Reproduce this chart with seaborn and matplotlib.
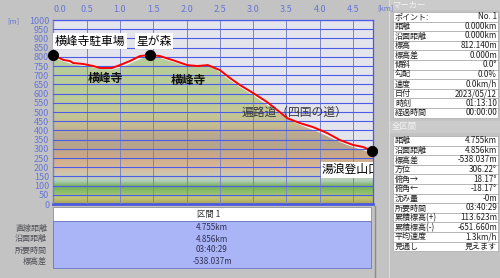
import numpy as np
import matplotlib
matplotlib.use("Agg")
import matplotlib.pyplot as plt
import seaborn as sns
from matplotlib.colors import LinearSegmentedColormap
from matplotlib.patches import Rectangle

# ---------------- data ----------------
route_km = [0.00, 0.15, 0.25, 0.30, 0.45, 0.60, 0.70, 0.88, 1.00, 1.15, 1.30, 1.45,
            1.60, 1.80, 2.01, 2.16, 2.32, 2.50, 2.65, 2.80, 3.00, 3.21, 3.36, 3.51,
            3.70, 3.90, 4.11, 4.30, 4.50, 4.65, 4.79]
route_elev = [810, 783, 777, 766, 761, 750, 739, 739, 755, 777, 804, 810,
              804, 781, 755, 750, 755, 728, 685, 647, 603, 554, 511, 467,
              440, 418, 386, 348, 321, 310, 288]

terrain_km = [0.0, 0.15, 0.3, 0.5, 0.7, 0.9, 1.05, 1.2, 1.35, 1.45, 1.6, 1.8, 2.0,
              2.15, 2.3, 2.45, 2.6, 2.8, 3.0, 3.2, 3.4, 3.6, 3.8, 4.0, 4.2, 4.4,
              4.6, 4.8]
terrain_elev = [800, 778, 762, 752, 738, 735, 750, 775, 798, 803, 797, 775, 752,
                752, 758, 735, 690, 640, 595, 545, 495, 450, 420, 392, 358, 326,
                302, 280]

point_km = [0.00, 1.45, 4.79]
point_elev = [812, 810, 288]

label_names = ["横峰寺駐車場", "星が森", "湯浪登山口"]
label_km = [0.02, 1.51, 4.035]
label_elev = [884, 884, 185]

area_names = ["横峰寺", "横峰寺"]
area_km = [0.78, 2.03]
area_elev = [680, 670]

trail_name = "遍路道（四国の道）"
trail_km = 3.615
trail_elev = 497

x_ticks = [0.0, 0.5, 1.0, 1.5, 2.0, 2.5, 3.0, 3.5, 4.0, 4.5]
y_ticks = list(range(0, 1001, 50))

marker_labels = ["ポイント:", "距離", "沿面距離", "標高", "標高差", "傾斜", "勾配",
                 "速度", "日付", "時刻", "経過時間"]
marker_values = ["No. 1", "0.000km", "0.000km", "812.140m", "0.000m", "0.0°",
                 "0.0%", "0.0km/h", "2023/05/12", "01:13:10", "00:00:00"]
total_labels = ["距離", "沿面距離", "標高差", "方位", "俯角→", "俯角←", "沈み量",
                "所要時間", "累積標高(+)", "累積標高(-)", "平均速度", "見通し"]
total_values = ["4.755km", "4.856km", "-538.037m", "306.22°", "18.17°", "-18.17°",
                "-0m", "03:40:29", "113.623m", "-651.660m", "1.3km/h", "見えます"]
section_labels = ["直線距離", "沿面距離", "所要時間", "標高差"]
section_values = ["4.755km", "4.856km", "03:40:29", "-538.037m"]

# ---------------- style ----------------
sns.set_style("white")
plt.rcParams['font.family'] = ['Noto Sans CJK JP', 'DejaVu Sans']

BG = '#c3c3c3'
TICKC = '#6676d6'

fig = plt.figure(figsize=(5, 2.78), dpi=100, facecolor=BG)

# UI overlay axes in pixel coordinates
ui = fig.add_axes([0, 0, 1, 1])
ui.set_xlim(0, 500)
ui.set_ylim(278, 0)
ui.axis('off')

ax = fig.add_axes([53.3 / 500, 1 - 204 / 278, (373 - 53.3) / 500, 184 / 278])
ax.set_facecolor('#e4e4ec')
ax.set_xlim(0, 4.8)
ax.set_ylim(0, 1000)

# hypsometric gradient fill clipped to terrain
stops = [(0, '#a8a858'), (30, '#c4c474'), (60, '#8cc06c'), (95, '#74b05c'),
         (125, '#b4d0bc'), (155, '#cccab4'), (200, '#d8b898'), (260, '#cca888'),
         (320, '#b4a48c'), (380, '#bcaa90'), (430, '#c6bc92'), (500, '#c4c896'),
         (600, '#bacc98'), (1000, '#b6cc9e')]
cmap = LinearSegmentedColormap.from_list('hyp', [(e / 1000, c) for e, c in stops])
grad = np.linspace(0, 1, 500).reshape(-1, 1)
im = ax.imshow(grad, extent=[0, 4.8, 0, 1000], origin='lower', aspect='auto',
               cmap=cmap, zorder=1, interpolation='bilinear')
poly = ax.fill_between(terrain_km, terrain_elev, 0, facecolor='none',
                       edgecolor='none', linewidth=0, zorder=1)
im.set_clip_path(poly.get_paths()[0], transform=ax.transData)
ax.plot(terrain_km, terrain_elev, color='#f2f2f2', lw=1.0, zorder=1.6)

# grid
ax.set_axisbelow(False)
ax.set_xticks(x_ticks)
ax.set_xticklabels([f"{v:.1f}" for v in x_ticks])
ax.set_yticks(y_ticks)
ax.set_yticklabels([str(v) for v in y_ticks])
ax.xaxis.tick_top()
ax.xaxis.grid(True, color='#7c84c0', lw=0.7)
ax.yaxis.grid(True, color='#4c5ce6', lw=0.8)
ax.tick_params(axis='x', length=0, pad=4.5, labelsize=6.5, labelcolor=TICKC)
ax.tick_params(axis='y', length=0, pad=3, labelsize=6.5, labelcolor=TICKC)
ax.get_xticklabels()[0].set_ha('left')
for s in ax.spines.values():
    s.set_color('#4a5ae0')
    s.set_linewidth(0.9)
ax.spines['bottom'].set_linewidth(2.0)

# route and points
sns.lineplot(x=route_km, y=route_elev, sort=False, estimator=None,
             color='#ff0000', lw=1.4, ax=ax, zorder=4)
sns.scatterplot(x=point_km, y=point_elev, color='black', s=55, edgecolor='black',
                ax=ax, zorder=5, clip_on=False)

for name, xk, ye in zip(label_names, label_km, label_elev):
    ax.text(xk, ye, name, ha='left' if name != "星が森" else 'center', va='center',
            fontsize=8.5, color='black', zorder=6, clip_on=True,
            bbox=dict(boxstyle='square,pad=0.12', fc='white', ec='none'))
for name, xk, ye in zip(area_names, area_km, area_elev):
    ax.text(xk, ye, name, ha='center', va='center', fontsize=8.5,
            fontweight='bold', color='#111111', zorder=6)
ax.text(trail_km, trail_elev, trail_name, ha='center', va='center', fontsize=8.5,
        color='#3a3a3a', zorder=6)

fig.text(385 / 500, 1 - 8 / 278, "[km]", fontsize=5.5, color=TICKC, ha='center', va='center')
fig.text(13 / 500, 1 - 21 / 278, "[m]", fontsize=5.5, color=TICKC, ha='center', va='center')

# ---------------- right panel ----------------
ui.plot([388.5, 388.5], [0, 278], color='#dedede', lw=0.7)
ui.add_patch(Rectangle((389, 0), 111, 10, fc='#cbcbcb', ec='none'))
ui.text(392, 5, "マーカー", fontsize=6, color='#f2f2f2', va='center', ha='left')
rh = 9.6
for i, (lab, val) in enumerate(zip(marker_labels, marker_values)):
    y = 12 + i * rh
    ui.add_patch(Rectangle((393, y), 105, rh, fc='white', ec='#a8a8a8', lw=0.5))
    ui.text(395, y + rh / 2, lab, fontsize=5.8, color='#1e1e1e', va='center', ha='left')
    ui.text(497, y + rh / 2, val, fontsize=5.8, color='#1e1e1e', va='center', ha='right')

ui.add_patch(Rectangle((389, 121), 111, 12, fc='#cbcbcb', ec='none'))
ui.text(392, 127, "全区間", fontsize=6, color='#f2f2f2', va='center', ha='left')
for i, (lab, val) in enumerate(zip(total_labels, total_values)):
    y = 136 + i * rh
    ui.add_patch(Rectangle((393, y), 105, rh, fc='white', ec='#a8a8a8', lw=0.5))
    ui.text(395, y + rh / 2, lab, fontsize=5.8, color='#1e1e1e', va='center', ha='left')
    ui.text(497, y + rh / 2, val, fontsize=5.8, color='#1e1e1e', va='center', ha='right')

# ---------------- bottom panel ----------------
ui.add_patch(Rectangle((53, 207), 318, 14, fc='white', ec='#909090', lw=0.6))
ui.text(209, 214, "区間 1", fontsize=6, color='#303030', va='center', ha='center')
ui.add_patch(Rectangle((53, 221), 318, 47, fc='#a9b5f7', ec='#6a76c8', lw=0.6))
for i, (lab, val) in enumerate(zip(section_labels, section_values)):
    yy = 228 + i * 11
    ui.text(212, yy, val, fontsize=5.8, color='#303050', va='center', ha='center')
    ui.text(47, yy, lab, fontsize=5.8, color='#505058', va='center', ha='right')
ui.plot([374.5, 374.5], [206, 278], color='#8c8c8c', lw=1.0)

fig.savefig('out.png', dpi=100, facecolor=BG)
